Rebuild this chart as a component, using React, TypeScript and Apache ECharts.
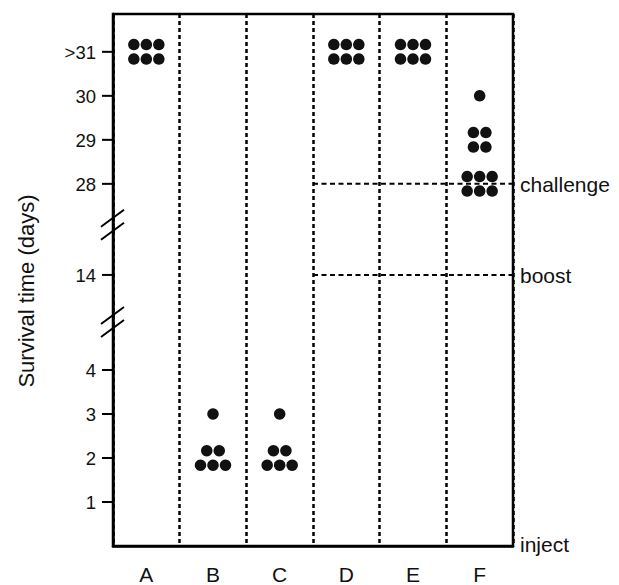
import React, { useEffect, useRef } from "react";
import * as echarts from "echarts";

// ---- data ----
const GROUPS = ["A", "B", "C", "D", "E", "F"];
const SURVIVAL_A = [31, 31, 31, 31, 31, 31];
const SURVIVAL_B = [3, 2, 2, 2, 2, 2];
const SURVIVAL_C = [3, 2, 2, 2, 2, 2];
const SURVIVAL_D = [31, 31, 31, 31, 31, 31];
const SURVIVAL_E = [31, 31, 31, 31, 31, 31];
const SURVIVAL_F = [30, 29, 29, 29, 29, 28, 28, 28, 28, 28, 28];
const SURVIVAL = [SURVIVAL_A, SURVIVAL_B, SURVIVAL_C, SURVIVAL_D, SURVIVAL_E, SURVIVAL_F];

const Y_TICK_VALUES = [1, 2, 3, 4, 14, 28, 29, 30, 31];
const Y_TICK_LABELS = ["1", "2", "3", "4", "14", "28", "29", "30", ">31"];

const EVENT_NAMES = ["challenge", "boost", "inject"];
const EVENT_DAYS = [28, 14, 0];
const EVENT_LINE_FROM = ["D", "D", null];

const Y_TITLE = "Survival time (days)";

// ---- broken-axis layout (display units) ----
const LOW_END = 4.6;
const MID_AT = 6.16; // display position of day 14
const HIGH_AT = 8.23; // display position of day 28
const BREAKS = [5.09, 7.3];
const Y_MAX = 12.09;

function toDisplay(v: number): number {
  if (v <= LOW_END) return v;
  if (v < 20) return MID_AT + (v - 14);
  return HIGH_AT + (v - 28);
}

const FAMILY = "'Liberation Sans', Arial, Helvetica, sans-serif";
const INK = "#111";
const DOT_DX = 12.5;
const DOT_DY = 14.5;

function buildDots() {
  const out: any[] = [];
  SURVIVAL.forEach((vals, gi) => {
    const counts = new Map<number, number>();
    vals.forEach((v) => counts.set(v, (counts.get(v) || 0) + 1));
    counts.forEach((n, v) => {
      const rows = Math.ceil(n / 3);
      const base = Math.floor(n / rows);
      const extra = n % rows;
      for (let r = 0; r < rows; r++) {
        const inRow = base + (r >= rows - extra ? 1 : 0);
        const dy = (r - (rows - 1) / 2) * DOT_DY;
        for (let c = 0; c < inRow; c++) {
          const dx = (c - (inRow - 1) / 2) * DOT_DX;
          out.push({ value: [gi, toDisplay(v)], symbolOffset: [dx, dy] });
        }
      }
    });
  });
  return out;
}

export default function App() {
  const ref = useRef<HTMLDivElement>(null);
  useEffect(() => {
    if (!ref.current) return;
    const chart = echarts.init(ref.current, null, { renderer: "svg" });
    const option: any = {
      animation: false,
      backgroundColor: "#fff",
      grid: {
        left: 113,
        right: 106,
        top: 14,
        bottom: 39,
        show: true,
        borderColor: "#000",
        borderWidth: 2.5,
        containLabel: false,
      },
      graphic: [
        {
          type: "text",
          x: 26,
          y: 291,
          rotation: Math.PI / 2,
          style: {
            text: Y_TITLE,
            fill: INK,
            font: `22px ${FAMILY}`,
            align: "center",
            verticalAlign: "middle",
          },
        },
      ],
      xAxis: {
        type: "category",
        data: GROUPS,
        boundaryGap: true,
        axisLine: { show: true, lineStyle: { color: "#000", width: 2.5 } },
        axisTick: { show: false },
        axisLabel: {
          interval: 0,
          margin: 18,
          fontSize: 21,
          color: INK,
          fontFamily: FAMILY,
        },
        splitLine: {
          show: true,
          interval: 0,
          lineStyle: { color: "#000", width: 2.5, type: [4, 3] },
        },
      },
      yAxis: {
        type: "value",
        min: 0,
        max: Y_MAX,
        axisLine: { show: true, lineStyle: { color: "#000", width: 2.5 } },
        axisTick: { show: false },
        axisLabel: { show: false },
        splitLine: { show: false },
      },
      series: [
        {
          type: "custom",
          name: "yticks",
          clip: false,
          silent: true,
          data: Y_TICK_VALUES.map((v) => [0, toDisplay(v)]),
          renderItem: (params: any, api: any) => {
            const p = api.coord([0, api.value(1)]);
            const left = params.coordSys.x;
            return {
              type: "group",
              children: [
                {
                  type: "line",
                  shape: { x1: left - 11, y1: p[1], x2: left, y2: p[1] },
                  style: { stroke: "#000", lineWidth: 2 },
                },
                {
                  type: "text",
                  x: left - 17,
                  y: p[1] + 0.5,
                  style: {
                    text: Y_TICK_LABELS[params.dataIndex],
                    fill: INK,
                    font: `18.5px ${FAMILY}`,
                    align: "right",
                    verticalAlign: "middle",
                  },
                },
              ],
            };
          },
        },
        {
          type: "custom",
          name: "breaks",
          clip: false,
          silent: true,
          data: BREAKS.map((b) => [0, b]),
          renderItem: (params: any, api: any) => {
            const p = api.coord([0, api.value(1)]);
            const x = params.coordSys.x;
            const mk = (off: number) => ({
              type: "line",
              shape: { x1: x - 12, y1: p[1] + off + 8.5, x2: x + 11, y2: p[1] + off - 8.5 },
              style: { stroke: "#000", lineWidth: 2 },
            });
            return { type: "group", children: [mk(-6.5), mk(6.5)] };
          },
        },
        {
          type: "custom",
          name: "events",
          clip: false,
          silent: true,
          data: EVENT_DAYS.map((d) => [0, toDisplay(d)]),
          renderItem: (params: any, api: any) => {
            const i = params.dataIndex;
            const cs = params.coordSys;
            const y = api.coord([0, api.value(1)])[1];
            const right = cs.x + cs.width;
            const children: any[] = [];
            const from = EVENT_LINE_FROM[i];
            if (from) {
              const gi = GROUPS.indexOf(from);
              const half = api.size([1, 0])[0] / 2;
              const x1 = api.coord([gi, 0])[0] - half;
              children.push({
                type: "line",
                shape: { x1, y1: y, x2: right, y2: y },
                style: { stroke: "#000", lineWidth: 2, lineDash: [5, 3.5] },
              });
            }
            children.push({
              type: "text",
              x: right + 7,
              y: y + (from ? 1 : -2),
              style: {
                text: EVENT_NAMES[i],
                fill: INK,
                font: `21px ${FAMILY}`,
                align: "left",
                verticalAlign: "middle",
              },
            });
            return { type: "group", children };
          },
        },
        {
          type: "scatter",
          name: "survival",
          symbol: "circle",
          symbolSize: 11.5,
          itemStyle: { color: "#111", opacity: 1 },
          z: 5,
          data: buildDots(),
        },
      ],
    };
    chart.setOption(option);
    return () => chart.dispose();
  }, []);
  return (
    <div
      ref={ref}
      style={{ position: "absolute", left: 0, top: 0, width: 619, height: 585, background: "#fff" }}
    />
  );
}
